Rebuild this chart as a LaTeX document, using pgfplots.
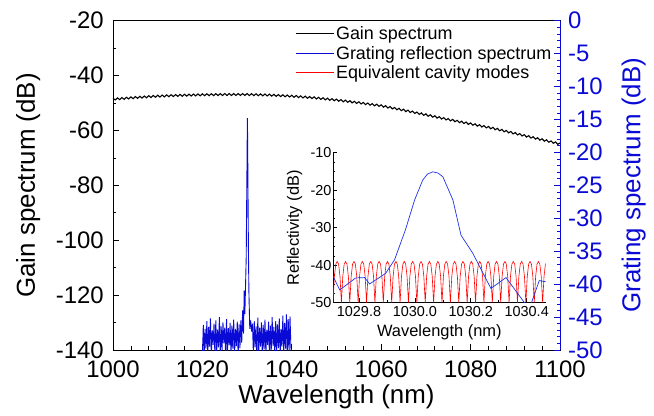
\documentclass[border=0pt]{standalone}
\usepackage{fontspec}
\setmainfont{Liberation Sans}
\usepackage{pgfplots}
\pgfplotsset{compat=1.18}
\definecolor{gblue}{RGB}{10,10,215}
\definecolor{iblue}{RGB}{30,50,230}
\begin{document}
\begin{tikzpicture}
\useasboundingbox (-113bp,-66bp) rectangle (541bp,350bp);
\begin{axis}[
  at={(0,0)}, anchor=south west,
  scale only axis, width=447bp, height=329.3bp,
  xmin=1000, xmax=1100, ymin=-140, ymax=-20,
  xtick={1000,1020,...,1100}, minor x tick num=4,
  ytick={-140,-120,...,-20}, minor y tick num=1,
  xtick pos=bottom, ytick pos=left,
  tick align=inside,
  major tick length=6bp, minor tick length=3.5bp,
  axis line style={line width=0.8pt},
  every tick/.style={black, line width=0.7pt},
  /pgf/number format/assume math mode=true,
  /pgf/number format/1000 sep={},
  ticklabel style={font=\fontsize{24}{26}\selectfont, inner sep=1bp},
  xticklabel style={yshift=-10bp},
  yticklabel style={xshift=-8bp},
  xlabel={Wavelength (nm)}, ylabel={Gain spectrum (dB)},
  label style={font=\fontsize{26}{30}\selectfont},
  xlabel style={at={(axis description cs:0.5,-0.143)}, anchor=center},
  ylabel style={at={(axis description cs:-0.19,0.5)}, anchor=center},
  legend style={at={(axis description cs:0.99,0.995)}, anchor=north east,
    draw=none, fill=none, font=\fontsize{18}{20}\selectfont,
    row sep=1bp, cells={anchor=west}, inner sep=2bp},
  legend image code/.code={\draw[#1] (0bp,0bp) -- (38bp,0bp);},
]
\addplot[black, line width=1.1pt] coordinates {
(1000,-48.25)(1000.5,-48.89)(1001,-48.13)(1001.5,-48.77)(1002,-48.01)(1002.5,-48.65)(1003,-47.89)(1003.5,-48.53)(1004,-47.77)(1004.5,-48.41)(1005,-47.65)
(1005.5,-48.30)(1006,-47.55)(1006.5,-48.20)(1007,-47.45)(1007.5,-48.10)(1008,-47.35)(1008.5,-48.00)(1009,-47.25)(1009.5,-47.90)(1010,-47.15)
(1010.5,-47.82)(1011,-47.09)(1011.5,-47.76)(1012,-47.03)(1012.5,-47.70)(1013,-46.97)(1013.5,-47.64)(1014,-46.91)(1014.5,-47.58)(1015,-46.85)
(1015.5,-47.53)(1016,-46.81)(1016.5,-47.49)(1017,-46.77)(1017.5,-47.45)(1018,-46.73)(1018.5,-47.41)(1019,-46.69)(1019.5,-47.37)(1020,-46.65)
(1020.5,-47.34)(1021,-46.63)(1021.5,-47.32)(1022,-46.61)(1022.5,-47.30)(1023,-46.59)(1023.5,-47.28)(1024,-46.57)(1024.5,-47.26)(1025,-46.55)
(1025.5,-47.25)(1026,-46.55)(1026.5,-47.25)(1027,-46.55)(1027.5,-47.25)(1028,-46.55)(1028.5,-47.25)(1029,-46.55)(1029.5,-47.25)(1030,-46.55)
(1030.5,-47.27)(1031,-46.59)(1031.5,-47.31)(1032,-46.63)(1032.5,-47.35)(1033,-46.67)(1033.5,-47.39)(1034,-46.71)(1034.5,-47.43)(1035,-46.75)
(1035.5,-47.49)(1036,-46.83)(1036.5,-47.57)(1037,-46.91)(1037.5,-47.65)(1038,-46.99)(1038.5,-47.73)(1039,-47.07)(1039.5,-47.81)(1040,-47.15)
(1040.5,-47.91)(1041,-47.27)(1041.5,-48.03)(1042,-47.39)(1042.5,-48.15)(1043,-47.51)(1043.5,-48.27)(1044,-47.63)(1044.5,-48.39)(1045,-47.75)
(1045.5,-48.53)(1046,-47.91)(1046.5,-48.69)(1047,-48.07)(1047.5,-48.85)(1048,-48.23)(1048.5,-49.01)(1049,-48.39)(1049.5,-49.17)(1050,-48.55)
(1050.5,-49.35)(1051,-48.75)(1051.5,-49.55)(1052,-48.95)(1052.5,-49.75)(1053,-49.15)(1053.5,-49.95)(1054,-49.35)(1054.5,-50.15)(1055,-49.55)
(1055.5,-50.36)(1056,-49.77)(1056.5,-50.58)(1057,-49.99)(1057.5,-50.80)(1058,-50.21)(1058.5,-51.02)(1059,-50.43)(1059.5,-51.24)(1060,-50.65)
(1060.5,-51.51)(1061,-50.97)(1061.5,-51.83)(1062,-51.29)(1062.5,-52.15)(1063,-51.61)(1063.5,-52.47)(1064,-51.93)(1064.5,-52.79)(1065,-52.25)
(1065.5,-53.12)(1066,-52.59)(1066.5,-53.46)(1067,-52.93)(1067.5,-53.80)(1068,-53.27)(1068.5,-54.14)(1069,-53.61)(1069.5,-54.48)(1070,-53.95)
(1070.5,-54.82)(1071,-54.29)(1071.5,-55.16)(1072,-54.63)(1072.5,-55.50)(1073,-54.97)(1073.5,-55.84)(1074,-55.31)(1074.5,-56.18)(1075,-55.65)
(1075.5,-56.51)(1076,-55.97)(1076.5,-56.83)(1077,-56.29)(1077.5,-57.15)(1078,-56.61)(1078.5,-57.47)(1079,-56.93)(1079.5,-57.79)(1080,-57.25)
(1080.5,-58.11)(1081,-57.57)(1081.5,-58.43)(1082,-57.89)(1082.5,-58.75)(1083,-58.21)(1083.5,-59.07)(1084,-58.53)(1084.5,-59.39)(1085,-58.85)
(1085.5,-59.74)(1086,-59.23)(1086.5,-60.12)(1087,-59.61)(1087.5,-60.50)(1088,-59.99)(1088.5,-60.88)(1089,-60.37)(1089.5,-61.26)(1090,-60.75)
(1090.5,-61.64)(1091,-61.13)(1091.5,-62.02)(1092,-61.51)(1092.5,-62.40)(1093,-61.89)(1093.5,-62.78)(1094,-62.27)(1094.5,-63.16)(1095,-62.65)
(1095.5,-63.54)(1096,-63.03)(1096.5,-63.92)(1097,-63.41)(1097.5,-64.30)(1098,-63.79)(1098.5,-64.68)(1099,-64.17)(1099.5,-65.06)(1100,-64.55)
};
\addlegendimage{gblue, line width=0.8pt}
\addlegendimage{red, line width=0.8pt}
\legend{Gain spectrum, Grating reflection spectrum, Equivalent cavity modes}
\end{axis}

\begin{axis}[
  at={(0,0)}, anchor=south west,
  scale only axis, width=447bp, height=329.3bp,
  xmin=1000, xmax=1100, ymin=-50, ymax=0,
  axis x line=none, axis y line*=right,
  ytick={-50,-45,...,0}, minor y tick num=4,
  tick align=inside,
  major tick length=6bp, minor tick length=3.5bp,
  y axis line style={gblue, line width=0.8pt, -},
  every tick/.style={gblue, line width=0.7pt},
  /pgf/number format/assume math mode=true,
  yticklabel style={text=gblue, font=\fontsize{24}{26}\selectfont, inner sep=1bp, xshift=7bp},
  ylabel={Grating spectrum (dB)},
  ylabel style={text=gblue, font=\fontsize{26}{30}\selectfont,
    at={(axis description cs:1.165,0.5)}, anchor=center},
]
\addplot[gblue, line width=0.9pt] coordinates {
(1020.0,-51)(1020.2,-46.2)(1020.4,-50.5)(1020.6,-46.8)(1020.8,-49.8)(1021.0,-45.6)(1021.2,-51)(1021.4,-46.5)(1021.6,-49.5)(1021.8,-45.2)
(1022.0,-50.8)(1022.2,-47.0)(1022.4,-49.2)(1022.6,-46.0)(1022.8,-51)(1023.0,-45.5)(1023.2,-50.2)(1023.4,-46.9)(1023.6,-49.6)(1023.8,-45.0)
(1024.0,-51)(1024.2,-46.4)(1024.4,-50.0)(1024.6,-45.8)(1024.8,-49.0)(1025.0,-46.6)(1025.2,-51)(1025.4,-45.3)(1025.6,-50.4)(1025.8,-46.7)
(1026.0,-49.3)(1026.2,-45.9)(1026.4,-51)(1026.6,-46.3)(1026.8,-49.8)(1027.0,-45.4)(1027.2,-50.6)(1027.4,-46.8)(1027.6,-49.4)(1027.8,-45.7)
(1028.0,-51)(1028.2,-46.1)(1028.4,-49.7)(1028.6,-45.5)(1028.8,-48.9)(1029.0,-44.0)(1029.2,-47.5)(1029.35,-41.0)(1029.5,-44.5)(1029.65,-40.3)
(1029.8,-36)(1029.9,-28)(1030.0,-20)(1030.06,-14.8)(1030.12,-18)(1030.2,-26)(1030.3,-35)(1030.4,-41)(1030.5,-44)(1030.6,-46.8)
(1030.8,-45.5)(1031.0,-47.2)(1031.2,-46.0)(1031.4,-50.5)(1031.6,-45.6)(1031.8,-49.6)(1032.0,-46.4)(1032.2,-51)(1032.4,-45.1)(1032.6,-50.2)
(1032.8,-46.6)(1033.0,-49.5)(1033.2,-45.8)(1033.4,-51)(1033.6,-46.2)(1033.8,-49.9)(1034.0,-45.4)(1034.2,-50.7)(1034.4,-46.9)(1034.6,-49.2)
(1034.8,-45.7)(1035.0,-51)(1035.2,-46.3)(1035.4,-50.1)(1035.6,-45.0)(1035.8,-49.4)(1036.0,-46.5)(1036.2,-51)(1036.4,-45.6)(1036.6,-50.3)
(1036.8,-46.1)(1037.0,-49.7)(1037.2,-45.2)(1037.4,-51)(1037.6,-46.8)(1037.8,-49.5)(1038.0,-44.8)(1038.2,-50.6)(1038.4,-45.9)(1038.6,-49.8)
(1038.8,-44.6)(1039.0,-51)(1039.2,-45.3)(1039.4,-50.2)(1039.6,-44.9)(1039.8,-49.6)(1040.0,-51)
};
\end{axis}

\begin{axis}[
  at={(220bp,47.3bp)}, anchor=south west,
  scale only axis, width=212.7bp, height=150bp,
  xmin=1029.707, xmax=1030.468, ymin=-50, ymax=-10,
  axis x line*=bottom, axis y line*=left,
  axis line style={line width=0.7pt, -},
  xtick={1029.8,1030.0,1030.2,1030.4}, minor x tick num=1,
  ytick={-50,-40,...,-10}, minor y tick num=3,
  tick align=inside,
  major tick length=4.5bp, minor tick length=2.5bp,
  every tick/.style={black, line width=0.6pt},
  /pgf/number format/assume math mode=true,
  xticklabel style={/pgf/number format/.cd, fixed, fixed zerofill, precision=1, 1000 sep={}},
  ticklabel style={font=\fontsize{14.5}{16}\selectfont},
  yticklabel style={xshift=2bp},
  xlabel={Wavelength (nm)}, ylabel={Reflectivity (dB)},
  label style={font=\fontsize{16.5}{18}\selectfont},
  xlabel style={at={(axis description cs:0.5,-0.2)}, anchor=center},
  ylabel style={at={(axis description cs:-0.18,0.5)}, anchor=center},
  clip=true,
]
\addplot[red, line width=0.6pt] coordinates {
(1029.707,-50)(1029.712,-43)(1029.717,-39.7)(1029.722,-39)(1029.727,-39.7)(1029.732,-43)
(1029.737,-50)(1029.742,-43)(1029.747,-39.7)(1029.752,-39)(1029.757,-39.7)(1029.762,-43)
(1029.767,-50)(1029.772,-43)(1029.777,-39.7)(1029.782,-39)(1029.787,-39.7)(1029.792,-43)
(1029.797,-50)(1029.802,-43)(1029.807,-39.7)(1029.812,-39)(1029.817,-39.7)(1029.822,-43)
(1029.827,-50)(1029.832,-43)(1029.837,-39.7)(1029.842,-39)(1029.847,-39.7)(1029.852,-43)
(1029.857,-50)(1029.862,-43)(1029.867,-39.7)(1029.872,-39)(1029.877,-39.7)(1029.882,-43)
(1029.887,-50)(1029.892,-43)(1029.897,-39.7)(1029.902,-39)(1029.907,-39.7)(1029.912,-43)
(1029.917,-50)(1029.922,-43)(1029.927,-39.7)(1029.932,-39)(1029.937,-39.7)(1029.942,-43)
(1029.947,-50)(1029.952,-43)(1029.957,-39.7)(1029.962,-39)(1029.967,-39.7)(1029.972,-43)
(1029.977,-50)(1029.982,-43)(1029.987,-39.7)(1029.992,-39)(1029.997,-39.7)(1030.002,-43)
(1030.007,-50)(1030.012,-43)(1030.017,-39.7)(1030.022,-39)(1030.027,-39.7)(1030.032,-43)
(1030.037,-50)(1030.042,-43)(1030.047,-39.7)(1030.052,-39)(1030.057,-39.7)(1030.062,-43)
(1030.067,-50)(1030.072,-43)(1030.077,-39.7)(1030.082,-39)(1030.087,-39.7)(1030.092,-43)
(1030.097,-50)(1030.102,-43)(1030.107,-39.7)(1030.112,-39)(1030.117,-39.7)(1030.122,-43)
(1030.127,-50)(1030.132,-43)(1030.137,-39.7)(1030.142,-39)(1030.147,-39.7)(1030.152,-43)
(1030.157,-50)(1030.162,-43)(1030.167,-39.7)(1030.172,-39)(1030.177,-39.7)(1030.182,-43)
(1030.187,-50)(1030.192,-43)(1030.197,-39.7)(1030.202,-39)(1030.207,-39.7)(1030.212,-43)
(1030.217,-50)(1030.222,-43)(1030.227,-39.7)(1030.232,-39)(1030.237,-39.7)(1030.242,-43)
(1030.247,-50)(1030.252,-43)(1030.257,-39.7)(1030.262,-39)(1030.267,-39.7)(1030.272,-43)
(1030.277,-50)(1030.282,-43)(1030.287,-39.7)(1030.292,-39)(1030.297,-39.7)(1030.302,-43)
(1030.307,-50)(1030.312,-43)(1030.317,-39.7)(1030.322,-39)(1030.327,-39.7)(1030.332,-43)
(1030.337,-50)(1030.342,-43)(1030.347,-39.7)(1030.352,-39)(1030.357,-39.7)(1030.362,-43)
(1030.367,-50)(1030.372,-43)(1030.377,-39.7)(1030.382,-39)(1030.387,-39.7)(1030.392,-43)
(1030.397,-50)(1030.402,-43)(1030.407,-39.7)(1030.412,-39)(1030.417,-39.7)(1030.422,-43)
(1030.427,-50)(1030.432,-43)(1030.437,-39.7)(1030.442,-39)(1030.447,-39.7)(1030.452,-43)
(1030.457,-50)(1030.462,-43)(1030.467,-39.7)(1030.472,-39)(1030.477,-39.7)(1030.482,-43)(1030.487,-50)
};
\addplot[iblue, line width=0.7pt] coordinates {
(1029.707,-42.9)(1029.731,-46.6)(1029.788,-43.4)(1029.82,-43.3)(1029.838,-45.0)(1029.895,-42.2)
(1029.927,-38.6)(1029.966,-30.6)(1029.999,-22.6)(1030.028,-17.3)(1030.045,-15.7)(1030.064,-15.1)
(1030.082,-15.4)(1030.10,-16.4)(1030.136,-22.6)(1030.165,-32.0)(1030.207,-36.8)(1030.272,-46.2)
(1030.326,-43.3)(1030.392,-50)(1030.41,-51.5)(1030.445,-44.1)(1030.468,-44.4)
};
\end{axis}
\end{tikzpicture}
\end{document}
